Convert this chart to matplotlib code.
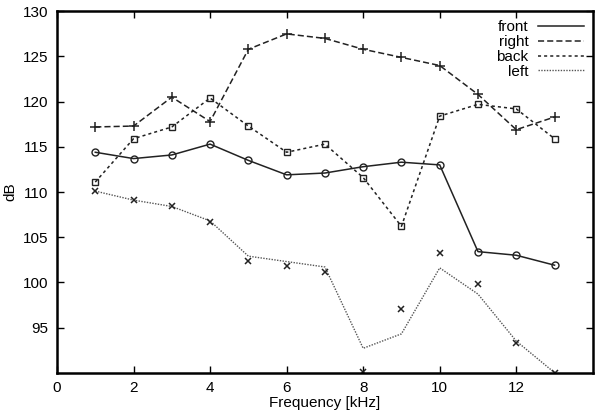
import matplotlib.pyplot as plt

plt.rcParams['font.family'] = ['Liberation Sans', 'DejaVu Sans']

freq = [1, 2, 3, 4, 5, 6, 7, 8, 9, 10, 11, 12, 13]

front = [114.4, 113.7, 114.1, 115.3, 113.5, 111.9, 112.1, 112.8, 113.3, 113.0, 103.4, 103.0, 101.9]
right = [117.2, 117.3, 120.5, 117.8, 125.8, 127.5, 127.0, 125.8, 124.9, 124.0, 120.8, 116.9, 118.3]
back = [111.1, 115.9, 117.2, 120.4, 117.3, 114.4, 115.3, 111.6, 106.2, 118.4, 119.7, 119.2, 115.9]
# left: the line and the measured points do not coincide in the original
left_line = [110.1, 109.1, 108.4, 106.8, 102.9, 102.3, 101.7, 92.7, 94.3, 101.6, 98.7, 93.5, 90.0]
left_pts = [110.1, 109.1, 108.4, 106.7, 102.4, 101.8, 101.2, 90.1, 97.0, 103.2, 99.8, 93.3, 90.0]

fig = plt.figure(figsize=(6, 4.13), dpi=100)
ax = fig.add_axes([0.095, 0.0976, 0.893, 0.875])

c = '#222222'
ax.plot(freq, front, color=c, lw=1.1, ls='-', label='front')
ax.plot(freq, front, ls='none', marker='o', ms=5, mfc='none', mec=c, mew=1)

ax.plot(freq, right, color=c, lw=1.1, ls=(0, (4, 2)), label='right')
ax.plot(freq, right, ls='none', marker='+', ms=6.5, mec=c, mew=1.1)

ax.plot(freq, back, color=c, lw=1.1, ls=(0, (2, 2)), label='back')
ax.plot(freq, back, ls='none', marker='s', ms=4.5, mfc='none', mec=c, mew=1)

ax.plot(freq, left_line, color='#555555', lw=1.0, ls=(0, (1, 1)), label='left')
ax.plot(freq, left_pts, ls='none', marker='x', ms=5, mec=c, mew=1.1)

ax.set_xlim(0, 14)
ax.set_ylim(90, 130)
ax.set_xticks([0, 2, 4, 6, 8, 10, 12])
ax.set_yticks([95, 100, 105, 110, 115, 120, 125, 130])
ax.tick_params(direction='in', top=True, right=True, labeltop=False, labelright=False,
               length=5, width=1, labelsize=11, pad=6)
for s in ax.spines.values():
    s.set_linewidth(1.8)

ax.set_xlabel('Frequency [kHz]', fontsize=11, labelpad=1)
ax.set_ylabel('dB', fontsize=11, labelpad=4)

ax.legend(loc='upper right', frameon=False, markerfirst=False, fontsize=11,
          handlelength=3.0, labelspacing=0.05, borderaxespad=0.2, handletextpad=0.6)

fig.savefig('out.png')
